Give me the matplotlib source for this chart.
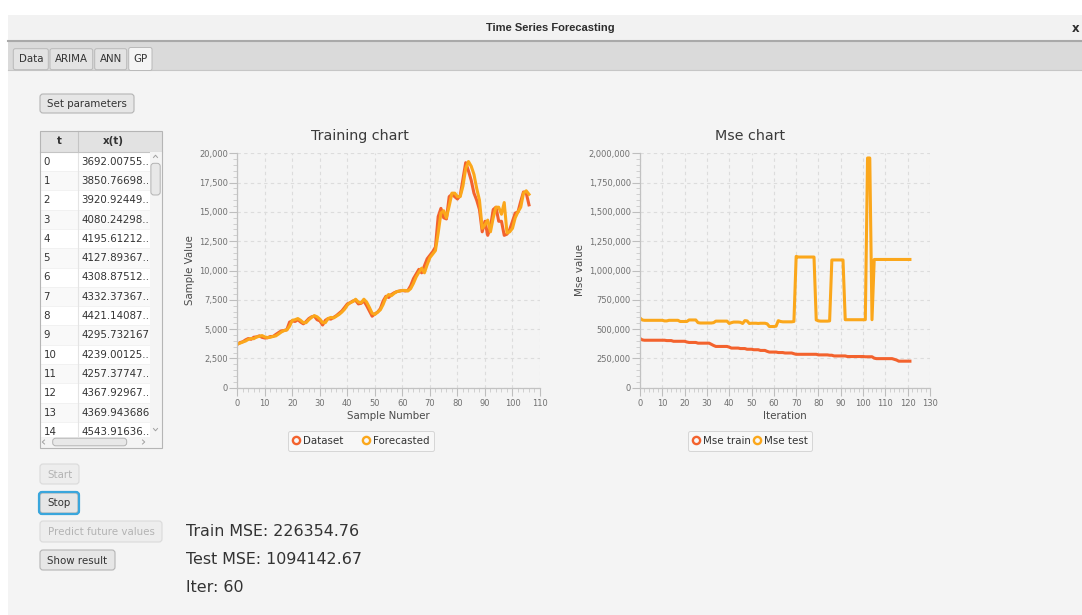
import matplotlib
matplotlib.use("Agg")
import matplotlib.pyplot as plt
from matplotlib.patches import Rectangle, FancyBboxPatch
from matplotlib.lines import Line2D
from matplotlib.ticker import MultipleLocator, AutoMinorLocator, FuncFormatter

W, H = 1082, 615

# ---- data ----
dataset = [3692.00755, 3850.76698, 3920.92449, 4080.24298, 4195.61212, 4127.89367, 4308.87512,
           4332.37367, 4421.14087, 4295.732167, 4239.00125, 4257.37747, 4367.92967, 4369.943686,
           4543.91636, 4700, 4850, 4880, 4950, 5600,
           5700, 5650, 5800, 5600, 5450, 5650, 5900, 6050, 6100, 5800,
           5700, 5350, 5750, 5900, 5850, 6000, 6150, 6350, 6550, 6850,
           7150, 7250, 7400, 7450, 7150, 7200, 7400, 7000, 6550, 6100,
           6300, 6450, 6750, 7400, 7800, 7700, 7950, 8100, 8200, 8250,
           8300, 8250, 8300, 8700, 9300, 9700, 10100, 9800, 10400, 11000,
           11300, 11600, 12000, 14600, 15300, 14500, 14400, 16300, 16500, 16300,
           16100, 16400, 17800, 19200, 18500, 17700, 16600, 16000, 15200, 13300,
           14200, 13000, 13700, 15200, 15400, 14200, 14200, 13000, 13100, 13500,
           14200, 14900, 15000, 15900, 16700, 16600, 15600]

forecasted = [3750, 3800, 3900, 3980, 4120, 4200, 4180, 4330, 4380, 4450,
              4330, 4280, 4300, 4380, 4420, 4580, 4750, 4870, 4920, 5250,
              5750, 5800, 5900, 5750, 5550, 5550, 5800, 6000, 6150, 6050,
              5850, 5550, 5550, 5900, 6000, 5950, 6100, 6250, 6450, 6700,
              7050, 7250, 7350, 7550, 7300, 7250, 7550, 7300, 6850, 6350,
              6250, 6450, 6650, 7100, 7700, 7950, 7850, 8050, 8200, 8250,
              8300, 8300, 8250, 8450, 8900, 9450, 9850, 10200, 9800, 10500,
              11100, 11400, 11700, 13200, 14900, 15100, 14500, 15500, 16600, 16600,
              16300, 16300, 17200, 18700, 19300, 18900, 18200, 17000, 16000, 13600,
              13900, 14300, 13300, 14500, 15400, 15400, 14800, 15800, 13200, 13300,
              13600, 14500, 15000, 15400, 16600, 16800, 16500]

mse_train = [420000, 408000, 405000, 405000, 405000, 405000, 405000, 405000, 405000, 405000,
             405000, 405000, 402000, 402000, 402000, 396000, 396000, 396000, 396000, 396000,
             396000, 390000, 386000, 386000, 386000, 386000, 380000, 380000, 380000, 380000,
             380000, 380000, 370000, 360000, 352000, 352000, 352000, 352000, 352000, 352000,
             346000, 338000, 338000, 338000, 338000, 334000, 334000, 334000, 328000, 328000,
             328000, 324000, 324000, 324000, 318000, 318000, 318000, 310000, 304000, 304000,
             304000, 304000, 300000, 300000, 300000, 296000, 296000, 296000, 296000, 290000,
             285000, 285000, 285000, 285000, 285000, 285000, 285000, 285000, 285000, 285000,
             280000, 280000, 280000, 280000, 280000, 277000, 277000, 271000, 271000, 271000,
             271000, 271000, 271000, 266000, 266000, 266000, 266000, 266000, 266000, 266000,
             266000, 264000, 264000, 264000, 264000, 252000, 248000, 248000, 248000, 248000,
             248000, 248000, 248000, 248000, 242000, 236000, 226355, 226355, 226355, 226355,
             226355, 226355]

mse_test = [595000, 578000, 575000, 575000, 575000, 575000, 575000, 575000, 575000, 575000,
            575000, 570000, 570000, 575000, 575000, 575000, 575000, 575000, 565000, 565000,
            565000, 565000, 578000, 578000, 578000, 578000, 555000, 552000, 552000, 552000,
            552000, 552000, 552000, 555000, 568000, 568000, 568000, 568000, 568000, 568000,
            548000, 555000, 560000, 560000, 560000, 558000, 548000, 572000, 570000, 548000,
            550000, 550000, 550000, 548000, 550000, 550000, 550000, 545000, 522000, 522000,
            522000, 525000, 572000, 565000, 562000, 562000, 562000, 562000, 562000, 565000,
            1120000, 1115000, 1115000, 1115000, 1115000, 1115000, 1115000, 1115000, 1115000, 578000,
            570000, 568000, 568000, 568000, 568000, 570000, 1090000, 1090000, 1090000, 1090000,
            1090000, 1090000, 580000, 580000, 580000, 580000, 580000, 580000, 580000, 580000,
            580000, 580000, 1960000, 1960000, 580000, 1094143, 1094143, 1094143, 1094143, 1094143,
            1094143, 1094143, 1094143, 1094143, 1094143, 1094143, 1094143, 1094143, 1094143, 1094143,
            1094143, 1094143]

table_t = ["0", "1", "2", "3", "4", "5", "6", "7", "8", "9", "10", "11", "12", "13", "14"]
table_x = ["3692.00755..", "3850.76698..", "3920.92449..", "4080.24298..", "4195.61212..",
           "4127.89367..", "4308.87512..", "4332.37367..", "4421.14087..", "4295.732167",
           "4239.00125..", "4257.37747..", "4367.92967..", "4369.943686", "4543.91636.."]

tabs = ["Data", "ARIMA", "ANN", "GP"]
result_lines = ["Train MSE: 226354.76", "Test MSE: 1094142.67", "Iter: 60"]

RED = '#f3622d'
ORANGE = '#fba71b'
BG = '#f4f4f4'
UI_FS = 7.4

plt.rcParams['font.family'] = 'DejaVu Sans'

fig = plt.figure(figsize=(W / 100, H / 100), dpi=100, facecolor=BG)
ui = fig.add_axes([0, 0, 1, 1])
ui.set_xlim(0, W)
ui.set_ylim(H, 0)
ui.axis('off')
ui.set_zorder(0)


def rect(x0, y0, x1, y1, face, edge='none', lw=0.8, r=0.0, z=1):
    if r > 0:
        p = FancyBboxPatch((x0, y0), x1 - x0, y1 - y0,
                           boxstyle=f"round,pad=0,rounding_size={r}",
                           facecolor=face, edgecolor=edge, linewidth=lw, zorder=z)
    else:
        p = Rectangle((x0, y0), x1 - x0, y1 - y0, facecolor=face,
                      edgecolor=edge, linewidth=lw, zorder=z)
    ui.add_patch(p)


def button(x0, y0, x1, y1, label, enabled=True, focused=False):
    if focused:
        rect(x0 - 1, y0 - 1, x1 + 1, y1 + 1, 'none', '#3aa6dc', lw=1.6, r=3, z=3)
    rect(x0, y0, x1, y1, '#e6e6e6' if enabled else '#ededed',
         '#b4b4b4' if enabled else '#dadada', lw=0.8, r=3, z=2)
    ui.text((x0 + x1) / 2, (y0 + y1) / 2 + 0.5, label, ha='center', va='center',
            fontsize=UI_FS, color='#333333' if enabled else '#b3b3b3', zorder=4)


# window frame
rect(0, 0, W, 14.7, 'white', z=1)
rect(0, 0, 8, H, 'white', z=1)
rect(8, 14.7, W, 41, '#f2f2f2', z=1)
ui.plot([8, W], [41, 41], color='#a9a9a9', lw=1.5, zorder=2)
ui.text(550, 28, "Time Series Forecasting", ha='center', va='center',
        fontsize=8, fontweight='bold', family='Liberation Sans', color='#2e2e2e', zorder=3)
ui.text(1076, 28, "x", ha='center', va='center', fontsize=8.5, fontweight='bold',
        color='#2e2e2e', zorder=3)

# tab bar
rect(8, 41.8, W, 69.7, '#dadada', z=1)
ui.plot([8, W], [69.7, 69.7], color='#c6c6c6', lw=0.8, zorder=2)
tab_x = [(13.3, 48.3), (50, 92.7), (94.7, 126.7), (128.7, 152)]
for (a, b), name in zip(tab_x, tabs):
    sel = name == "GP"
    rect(a, 47.5 if sel else 48.7, b, 70.5 if sel else 69.7,
         BG if sel else '#e3e3e3', '#b9b9b9', lw=0.7, r=2, z=2)
    ui.text((a + b) / 2, 59.5, name, ha='center', va='center', fontsize=UI_FS,
            color='#333333', zorder=4)

# buttons
button(40, 94, 134, 113, "Set parameters")
button(40, 464, 79, 484, "Start", enabled=False)
button(40, 493, 78, 513, "Stop", focused=True)
button(40, 521, 162, 542, "Predict future values", enabled=False)
button(40, 550, 115, 570, "Show result")

# table
tx0, tx1, ty0, hdr_b = 40, 162, 131, 151.7
row_h = 19.3
split_x = 77.7
sb_x = 150
rect(tx0, ty0, tx1, hdr_b, '#e2e2e2', z=2)
for i, (t, v) in enumerate(zip(table_t, table_x)):
    y0 = hdr_b + i * row_h
    y1 = min(y0 + row_h, 436.7)
    rect(tx0, y0, sb_x, y1, 'white' if i % 2 == 0 else '#f9f9f9', z=2)
    ui.plot([tx0, sb_x], [y1, y1], color='#f0f0f0', lw=0.6, zorder=2.5)
    ui.text(43.5, y0 + row_h / 2 + 0.3, t, ha='left', va='center', fontsize=UI_FS,
            color='#333333', zorder=4)
    ui.text(81.5, y0 + row_h / 2 + 0.3, v, ha='left', va='center', fontsize=UI_FS,
            color='#333333', zorder=4, clip_on=True)
ui.plot([split_x, split_x], [ty0, 436.7], color='#e4e4e4', lw=0.8, zorder=2.6)
ui.plot([split_x, split_x], [ty0, hdr_b], color='#c4c4c4', lw=0.8, zorder=2.7)
ui.plot([tx0, tx1], [hdr_b, hdr_b], color='#c4c4c4', lw=0.8, zorder=2.7)
ui.text((tx0 + split_x) / 2, (ty0 + hdr_b) / 2, "t", ha='center', va='center',
        fontsize=UI_FS, fontweight='bold', color='#333333', zorder=4)
ui.text(113, (ty0 + hdr_b) / 2, "x(t)", ha='center', va='center',
        fontsize=UI_FS, fontweight='bold', color='#333333', zorder=4)

# vertical scrollbar
rect(sb_x, hdr_b, tx1, 436.7, '#f4f4f4', z=3)
rect(150.9, 163.3, 160.2, 195, '#e8e8e8', '#b3b3b3', lw=0.7, r=3, z=4)
ui.plot([153.5, 155.5, 157.5], [157.5, 155.2, 157.5], color='#a0a0a0', lw=0.7, zorder=5)
ui.plot([153.5, 155.5, 157.5], [428.5, 430.8, 428.5], color='#a0a0a0', lw=0.7, zorder=5)
# horizontal scrollbar
rect(tx0, 436.7, tx1, 447.5, '#f4f4f4', z=3)
rect(52.7, 438.2, 126.7, 445.8, '#e8e8e8', '#b3b3b3', lw=0.7, r=3, z=4)
ui.plot([44.5, 42.3, 44.5], [440, 442, 444], color='#a0a0a0', lw=0.7, zorder=5)
ui.plot([142.5, 144.7, 142.5], [440, 442, 444], color='#a0a0a0', lw=0.7, zorder=5)
rect(tx0, ty0, tx1, 447.5, 'none', '#b5b5b5', lw=0.8, z=6)

# result labels
for k, line in enumerate(result_lines):
    ui.text(186, 532 + 28 * k, line, ha='left', va='center', fontsize=11.4,
            color='#333333', zorder=4)


# ---- charts ----
def px_axes(x0, y0, x1, y1):
    return fig.add_axes([x0 / W, 1 - y1 / H, (x1 - x0) / W, (y1 - y0) / H])


def style_chart(ax, xmax, xstep, ymax, ystep):
    ax.set_facecolor('none')
    ax.set_zorder(2)
    ax.set_xlim(0, xmax)
    ax.set_ylim(0, ymax)
    ax.xaxis.set_major_locator(MultipleLocator(xstep))
    ax.yaxis.set_major_locator(MultipleLocator(ystep))
    ax.xaxis.set_minor_locator(AutoMinorLocator(5))
    ax.yaxis.set_minor_locator(AutoMinorLocator(5))
    ax.yaxis.set_major_formatter(FuncFormatter(lambda v, p: f'{v:,.0f}'))
    ax.grid(True, which='major', color='#dcdcdc', linestyle=(0, (3, 3)), linewidth=0.8)
    ax.set_axisbelow(True)
    for s in ('top', 'right'):
        ax.spines[s].set_visible(False)
    for s in ('left', 'bottom'):
        ax.spines[s].set_color('#c2c2c2')
        ax.spines[s].set_linewidth(0.9)
    ax.tick_params(which='major', length=5.8, width=0.8, color='#bebebe',
                   labelsize=6, labelcolor='#707070')
    ax.tick_params(which='minor', length=2.9, width=0.6, color='#cacaca')
    ax.tick_params(axis='x', which='major', pad=2)
    ax.tick_params(axis='y', which='major', pad=0.8)


def chart_legend(ax, labels, cx, spacing):
    handles = [Line2D([], [], linestyle='none', marker='o', markersize=5.2,
                      markerfacecolor='none', markeredgecolor=c, markeredgewidth=1.7)
               for c in (RED, ORANGE)]
    leg = ax.legend(handles, labels, loc='center', bbox_to_anchor=(cx, 441),
                    bbox_transform=ui.transData, ncol=2, fontsize=UI_FS,
                    frameon=True, fancybox=True, framealpha=1, facecolor='#f7f7f7',
                    edgecolor='#d6d6d6', borderpad=0.45, handlelength=0.7,
                    handletextpad=0.3, columnspacing=spacing, labelcolor='#333333')
    leg.get_frame().set_linewidth(0.7)


ax1 = px_axes(237.3, 153.3, 540, 387.7)
style_chart(ax1, 110, 10, 20000, 2500)
sample_no = range(len(dataset))
ax1.plot(sample_no, dataset, color=RED, lw=2.2, solid_joinstyle='round')
ax1.plot(range(len(forecasted)), forecasted, color=ORANGE, lw=2.2, solid_joinstyle='round')
chart_legend(ax1, ["Dataset", "Forecasted"], 361, 1.9)

ax2 = px_axes(640, 153.3, 930, 387.7)
style_chart(ax2, 130, 10, 2000000, 250000)
ax2.plot(range(len(mse_train)), mse_train, color=RED, lw=2.2, solid_joinstyle='round')
ax2.plot(range(len(mse_test)), mse_test, color=ORANGE, lw=2.2, solid_joinstyle='round')
chart_legend(ax2, ["Mse train", "Mse test"], 750, 0.3)

# chart titles and axis labels
ui.text(360, 136, "Training chart", ha='center', va='center', fontsize=10.3,
        color='#3a3a3a', zorder=4)
ui.text(750, 136, "Mse chart", ha='center', va='center', fontsize=10.3,
        color='#3a3a3a', zorder=4)
ui.text(190, 270.5, "Sample Value", rotation=90, ha='center', va='center',
        fontsize=UI_FS, color='#4a4a4a', zorder=4)
ui.text(580, 270.5, "Mse value", rotation=90, ha='center', va='center',
        fontsize=UI_FS, color='#4a4a4a', zorder=4)
ui.text(388.6, 416, "Sample Number", ha='center', va='center',
        fontsize=UI_FS, color='#4a4a4a', zorder=4)
ui.text(785, 416, "Iteration", ha='center', va='center',
        fontsize=UI_FS, color='#4a4a4a', zorder=4)

fig.savefig("out.png", dpi=100, facecolor=BG)
